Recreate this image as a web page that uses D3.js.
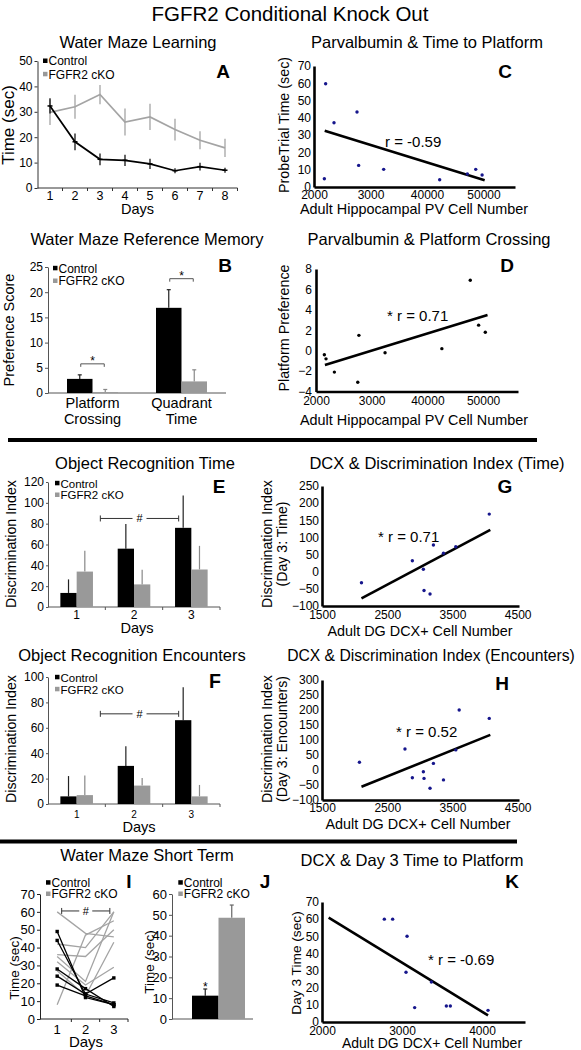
<!DOCTYPE html>
<html><head><meta charset="utf-8">
<script src="https://cdn.jsdelivr.net/npm/d3@7"></script>
<style>body{margin:0;background:#fff;}</style>
</head><body>
<svg id="c" width="581" height="1050"></svg>
<script>
// ================= DATA =================
const mainTitle = "FGFR2 Conditional Knock Out";
const groups = ["Control", "FGFR2 cKO"];

// A: Water Maze Learning
const daysA = [1, 2, 3, 4, 5, 6, 7, 8];
const ctrlA = [32.3, 18.2, 11.3, 10.9, 9.5, 6.8, 8.4, 7.0];
const ctrlAErr = [3.0, 3.3, 2.3, 2.2, 2.0, 1.0, 1.5, 1.0];
const ckoA = [29.8, 32.0, 36.8, 26.0, 28.0, 23.0, 18.8, 15.8];
const ckoAErr = [5.0, 4.7, 3.8, 5.3, 5.2, 4.3, 3.5, 3.6];
const yTicksA = [0, 10, 20, 30, 40, 50];

// B: Water Maze Reference Memory
const catsB = ["Platform Crossing", "Quadrant Time"];
const ctrlB = [2.8, 16.9];
const ctrlBErr = [0.8, 3.6];
const ckoB = [0.15, 2.3];
const ckoBErr = [0.55, 2.3];
const yTicksB = [0, 5, 10, 15, 20, 25];

// C: Parvalbumin & Time to Platform
const pvC = [2206, 2354, 2761, 2790, 3233, 2183, 4224, 4714, 4862, 4975];
const timeC = [59.7, 37.2, 43.4, 12.5, 10.2, 4.8, 4.2, 7.5, 10.2, 6.9];
const fitC = [[2189, 32.6], [5020, 3.9]];
const pvTicks = [2000, 3000, 4000, 5000];
const pvTickLabels = ["2000", "3000", "40000", "50000"];
const yTicksC = [0, 10, 20, 30, 40, 50, 60, 70];

// D: Parvalbumin & Platform Crossing
const pvD = [2150, 2180, 2330, 2750, 2770, 3240, 4260, 4770, 4920, 5040];
const prefD = [-0.4, -0.8, -2.1, -3.1, 1.5, -0.2, 0.2, 6.9, 2.5, 1.8];
const fitD = [[2160, -1.4], [5080, 3.5]];
const yTicksD = [-4, -2, 0, 2, 4, 6, 8];

// E: Object Recognition Time
const daysE = [1, 2, 3];
const ctrlE = [13.5, 56, 76];
const ctrlEErr = [13, 23.7, 31];
const ckoE = [34, 21.7, 36];
const ckoEErr = [20, 14, 22.7];
const yTicksE = [0, 20, 40, 60, 80, 100, 120];

// F: Object Recognition Encounters
const ctrlF = [6, 30, 66];
const ctrlFErr = [16, 15.5, 26];
const ckoF = [7, 14.5, 6];
const ckoFErr = [15.5, 6, 9];
const yTicksF = [0, 20, 40, 60, 80, 100];

// G: DCX & Discrimination Index (Time)
const dcxG = [2105, 2885, 3054, 3064, 3156, 3208, 3362, 3551, 4064];
const diG = [-32, 32, 7, -55, -65, 78, 54, 73, 168];
const fitG = [[2105, -78], [4080, 122]];
const dcxTicks = [1500, 2500, 3500, 4500];
const yTicksG = [-100, -50, 0, 50, 100, 150, 200, 250];

// H: DCX & Discrimination Index (Encounters)
const dcxH = [2074, 2772, 2885, 3054, 3064, 3156, 3208, 3362, 3551, 3603, 4064];
const diH = [26, 70, -26, -6, -28, -61, 22, -33, 67, 200, 172];
const fitH = [[2105, -56], [4080, 117]];
const yTicksH = [-100, -50, 0, 50, 100, 150, 200, 250, 300];

// I: Water Maze Short Term (individual animals)
const daysI = [1, 2, 3];
const ctrlI = [[49, 12, 8], [44, 14, 9], [28, 17, 7], [24, 14, 23], [19, 13, 8]];
const ckoI = [[60, 48, 46], [42, 40, 60], [36, 35, 50], [35, 21, 60], [32, 19, 29], [27, 13, 43], [8, 47, 55]];
const yTicksI = [0, 10, 20, 30, 40, 50, 60, 70];

// J: Water Maze Short Term (means)
const meanJ = [11.2, 48.6];
const errJ = [3.2, 6.1];
const yTicksJ = [0, 10, 20, 30, 40, 50, 60];

// K: DCX & Day 3 Time to Platform
const dcxK = [2779, 2883, 3063, 3050, 3158, 3367, 3554, 3604, 4075];
const timeK = [60, 60, 50, 29, 8.4, 23.3, 9.3, 9.3, 6.8];
const fitK = [[2083, 60.9], [4075, 3.9]];
const dcxTicksK = [2000, 3000, 4000];
const yTicksK = [0, 10, 20, 30, 40, 50, 60, 70];

// ================= DRAWING =================
const FONT = '"Liberation Sans", Arial, Helvetica, sans-serif';
const color = {"Control": "#000", "FGFR2 cKO": "#999"};
const LINEGRAY = "#a4a4a4";
const DOT = "#16168c";
const svg = d3.select("#c").attr("font-family", FONT);
svg.append("rect").attr("width", 581).attr("height", 1050).attr("fill", "#fff");

function txt(x, y, s, size, anchor = "middle", weight = "normal") {
  return svg.append("text").attr("x", x).attr("y", y).attr("font-size", size)
    .attr("text-anchor", anchor).attr("font-weight", weight).attr("fill", "#000").text(s);
}
function vtxt(x, y, s, size) {
  return svg.append("text").attr("transform", `translate(${x},${y}) rotate(-90)`)
    .attr("font-size", size).attr("text-anchor", "middle").attr("fill", "#000").text(s);
}
function line(x1, y1, x2, y2, stroke, sw = 1) {
  return svg.append("line").attr("x1", x1).attr("y1", y1).attr("x2", x2).attr("y2", y2)
    .attr("stroke", stroke).attr("stroke-width", sw);
}
function legend(x, ys, size = 12) {
  groups.forEach((g, i) => {
    svg.append("rect").attr("x", x).attr("y", ys[i] - 2.5).attr("width", 4.5).attr("height", 4.5).attr("fill", color[g]);
    txt(x + 5.5, ys[i] + 4.3, g, size, "start");
  });
}
function yAxis(scale, x, ticks, o = {}) {
  const g = svg.append("g").attr("transform", `translate(${x},0)`)
    .call(d3.axisLeft(scale).tickValues(ticks).tickSize(o.tick ?? 3).tickSizeOuter(0).tickPadding(o.pad ?? 2));
  g.attr("font-family", FONT).attr("font-size", o.size ?? 12);
  g.select(".domain").attr("stroke", o.color ?? "#333").attr("stroke-width", o.sw ?? 1);
  g.selectAll(".tick line").attr("stroke", o.color ?? "#333");
  g.selectAll(".tick text").attr("fill", "#000");
  return g;
}
function bandXAxis(scale, y, o = {}) {
  const [r0, r1] = scale.range();
  line(r0, y, o.end ?? r1, y, o.color ?? "#333", 1);
  if (o.ticks !== false) {
    scale.domain().slice(1).map(d => scale(d)).concat([r1]).forEach(xx => line(xx, y, xx, y + 3, o.color ?? "#333", 1));
  }
  if (o.labels) scale.domain().forEach(d => txt(scale(d) + scale.bandwidth() / 2, y + o.dy, d, o.size));
}
function sigBracket(x1, x2, y, sym, gap) {
  const m = (x1 + x2) / 2;
  if (gap) {
    line(x1, y, m - gap, y, "#333", 1); line(m + gap, y, x2, y, "#333", 1);
    line(x1, y - 3, x1, y + 3, "#333", 1); line(x2, y - 3, x2, y + 3, "#333", 1);
    txt(m, y + 4, sym, 11);
  } else {
    line(x1, y, x2, y, "#555", 1); line(x1, y, x1, y + 3, "#555", 1); line(x2, y, x2, y + 3, "#555", 1);
    txt(m, y + 1.5, sym, 12);
  }
}
function groupedBars(x, sub, y, ctrl, ctrlErr, cko, ckoErr, cap) {
  const off = (x.bandwidth() - sub.range()[1]) / 2;
  const sets = [[groups[0], ctrl, ctrlErr], [groups[1], cko, ckoErr]];
  sets.forEach(([g, vals, errs]) => {
    vals.forEach((v, i) => {
      const c = x.domain()[i];
      const bx = x(c) + off + sub(g);
      const mx = bx + sub.bandwidth() / 2;
      line(mx, y(v), mx, y(v + errs[i]), g === "Control" ? "#222" : "#888", 1.2);
      if (cap) line(mx - 2, y(v + errs[i]), mx + 2, y(v + errs[i]), g === "Control" ? "#222" : "#888", 1.2);
      svg.append("rect").attr("x", bx).attr("y", y(v)).attr("width", sub.bandwidth())
        .attr("height", y(y.domain()[0]) - y(v)).attr("fill", color[g]);
    });
  });
}
function scatter(o) {
  const x = d3.scaleLinear().domain(o.xd).range(o.xr);
  const y = d3.scaleLinear().domain(o.yd).range(o.yr);
  const gy = svg.append("g").attr("transform", `translate(${o.xr[0]},0)`)
    .call(d3.axisLeft(y).tickValues(o.yt).tickSize(0).tickSizeOuter(0).tickPadding(o.ypad ?? 3));
  const gx = svg.append("g").attr("transform", `translate(0,${o.yr[0]})`)
    .call(d3.axisBottom(x).tickValues(o.xt).tickFormat((d, i) => o.xl ? o.xl[i] : d)
      .tickSize(0).tickSizeOuter(0).tickPadding(o.xpad ?? 3));
  [gx, gy].forEach(g => {
    g.attr("font-family", FONT).attr("font-size", 12);
    g.select(".domain").attr("stroke", "#000").attr("stroke-width", 2.6);
    g.selectAll(".tick text").attr("fill", "#000");
  });
  line(x(o.fit[0][0]), y(o.fit[0][1]), x(o.fit[1][0]), y(o.fit[1][1]), "#000", 2.6);
  svg.append("g").selectAll("circle").data(o.xs).join("circle")
    .attr("cx", d => x(d)).attr("cy", (d, i) => y(o.ys[i])).attr("r", 1.7).attr("fill", o.dot ?? DOT);
}

// ---------- Main title & separators ----------
txt(290, 21, mainTitle, 20.5);
svg.append("rect").attr("x", 8).attr("y", 438).attr("width", 529).attr("height", 4).attr("fill", "#000");
svg.append("rect").attr("x", 0).attr("y", 839.5).attr("width", 517).attr("height", 4).attr("fill", "#000");

// ---------- Panel A ----------
(function () {
  const x = d3.scaleBand().domain(daysA).range([37.5, 237.5]);
  const y = d3.scaleLinear().domain([0, 50]).range([188, 61]);
  const cx = d => x(d) + x.bandwidth() / 2;
  yAxis(y, 37.5, yTicksA, {size: 12});
  bandXAxis(x, 188, {labels: true, dy: 12, size: 12.5});
  const ln = d3.line().x((d, i) => cx(daysA[i])).y(d => y(d));
  svg.append("path").datum(ckoA).attr("d", ln).attr("fill", "none").attr("stroke", LINEGRAY).attr("stroke-width", 1.7);
  ckoA.forEach((v, i) => line(cx(daysA[i]), y(v - ckoAErr[i]), cx(daysA[i]), y(v + ckoAErr[i]), LINEGRAY, 1.3));
  svg.append("path").datum(ctrlA).attr("d", ln).attr("fill", "none").attr("stroke", "#000").attr("stroke-width", 1.7);
  ctrlA.forEach((v, i) => {
    const xx = cx(daysA[i]);
    line(xx, y(v - ctrlAErr[i]), xx, y(v + ctrlAErr[i]), "#000", 1.2);
    line(xx - 2.5, y(v), xx + 2.5, y(v), "#000", 1.5);
  });
  txt(138, 48, "Water Maze Learning", 16.5);
  vtxt(14, 125, "Time (sec)", 17);
  txt(137.5, 213.5, "Days", 14.5);
  legend(43, [61, 74.3]);
  txt(223, 78, "A", 19, "middle", "bold");
})();

// ---------- Panel B ----------
(function () {
  const x = d3.scaleBand().domain(catsB).range([48, 226]);
  const sub = d3.scaleBand().domain(groups).range([0, 51]);
  const y = d3.scaleLinear().domain([0, 25]).range([393, 267]);
  yAxis(y, 48, yTicksB, {size: 12, color: "#555"});
  bandXAxis(x, 393, {ticks: false, color: "#555"});
  groupedBars(x, sub, y, ctrlB, ctrlBErr, ckoB, ckoBErr, true);
  const off = (x.bandwidth() - 51) / 2;
  catsB.forEach((c, i) => {
    const xc = x(c) + off + sub(groups[0]) + sub.bandwidth() / 2;
    const xk = x(c) + off + sub(groups[1]) + sub.bandwidth() / 2;
    const top = Math.min(y(ctrlB[i] + ctrlBErr[i]), y(ckoB[i] + ckoBErr[i]));
    sigBracket(xc + 1, xk - 1, top - 11, "*");
    const parts = c.split(" ");
    txt(x(c) + x.bandwidth() / 2, 408, parts[0], 14.5);
    txt(x(c) + x.bandwidth() / 2, 424, parts[1], 14.5);
  });
  txt(147, 245, "Water Maze Reference Memory", 16.5);
  vtxt(14, 330, "Preference Score", 14.5);
  legend(53, [268.3, 281]);
  txt(225, 272, "B", 19, "middle", "bold");
})();

// ---------- Panel C ----------
scatter({xd: [2000, 5557], xr: [314, 515], yd: [0, 70], yr: [187, 66],
  xt: pvTicks, xl: pvTickLabels, yt: yTicksC, xs: pvC, ys: timeC, fit: fitC, xpad: 3.5, ypad: 3});
txt(427, 48, "Parvalbumin & Time to Platform", 16.5);
vtxt(289, 125, "ProbeTrial Time (sec)", 14.3);
txt(414, 214, "Adult Hippocampal PV Cell Number", 14.4);
txt(385, 147, "r = -0.59", 15, "start");
txt(505, 78, "C", 19, "middle", "bold");

// ---------- Panel D ----------
scatter({xd: [2000, 5627], xr: [316, 518], yd: [-4, 8], yr: [391.5, 269],
  xt: pvTicks, xl: pvTickLabels, yt: yTicksD, xs: pvD, ys: prefD, fit: fitD, xpad: 5, ypad: 4, dot: "#000"});
txt(429, 245, "Parvalbumin & Platform Crossing", 16.5);
vtxt(289, 328, "Platform Preference", 14.3);
txt(414, 425, "Adult Hippocampal PV Cell Number", 14.4);
txt(387, 321, "* r = 0.71", 15, "start");
txt(507, 272, "D", 19, "middle", "bold");

// ---------- Panel E ----------
(function () {
  const x = d3.scaleBand().domain(daysE).range([48, 220]);
  const sub = d3.scaleBand().domain(groups).range([0, 32.6]);
  const y = d3.scaleLinear().domain([0, 120]).range([607, 482]);
  yAxis(y, 48, yTicksE, {size: 12, color: "#555", tick: 2});
  bandXAxis(x, 607, {labels: true, dy: 12, size: 12, color: "#555"});
  groupedBars(x, sub, y, ctrlE, ctrlEErr, ckoE, ckoEErr, false);
  sigBracket(x(2) - 5, x(3) + 16, y(85), "#", 7);
  txt(145, 469, "Object Recognition Time", 16.5);
  vtxt(16, 544, "Discrimination Index", 14.2);
  txt(137, 632.5, "Days", 14.6);
  legend(55, [483.3, 495], 11.5);
  txt(219, 493, "E", 19, "middle", "bold");
})();

// ---------- Panel G ----------
scatter({xd: [1500, 4520], xr: [322, 519], yd: [-100, 250], yr: [606, 486],
  xt: dcxTicks, yt: yTicksG, xs: dcxG, ys: diG, fit: fitG, xpad: 4.5, ypad: 3});
txt(437, 469, "DCX & Discrimination Index (Time)", 16.5);
vtxt(272, 544, "Discrimination Index", 14.2);
vtxt(287, 544, "(Day 3: Time)", 14.2);
txt(420, 636, "Adult DG DCX+ Cell Number", 14.4);
txt(378, 542, "* r = 0.71", 15, "start");
txt(505, 493, "G", 19, "middle", "bold");

// ---------- Panel F ----------
(function () {
  const x = d3.scaleBand().domain(daysE).range([48, 220]);
  const sub = d3.scaleBand().domain(groups).range([0, 32.6]);
  const y = d3.scaleLinear().domain([0, 100]).range([804, 677]);
  yAxis(y, 48, yTicksF, {size: 12, color: "#555", tick: 2});
  bandXAxis(x, 804, {labels: true, dy: 13.5, size: 10, color: "#555"});
  groupedBars(x, sub, y, ctrlF, ctrlFErr, ckoF, ckoFErr, false);
  sigBracket(x(2) - 5, x(3) + 16, y(71), "#", 7);
  txt(132, 661, "Object Recognition Encounters", 16.5);
  vtxt(16, 739, "Discrimination Index", 14.2);
  txt(139, 832, "Days", 14.6);
  legend(55, [677.3, 689.3], 11.5);
  txt(215, 688, "F", 19.5, "middle", "bold");
})();

// ---------- Panel H ----------
scatter({xd: [1500, 4520], xr: [322, 519], yd: [-100, 300], yr: [800, 680],
  xt: dcxTicks, yt: yTicksH, xs: dcxH, ys: diH, fit: fitH, xpad: 3.5, ypad: 3});
txt(431, 661, "DCX & Discrimination Index (Encounters)", 15.7);
vtxt(272, 739, "Discrimination Index", 14.2);
vtxt(287, 739, "(Day 3: Encounters)", 14.2);
txt(418, 829, "Adult DG DCX+ Cell Number", 14.4);
txt(396, 737, "* r = 0.52", 15, "start");
txt(502, 690, "H", 19, "middle", "bold");

// ---------- Panel I ----------
(function () {
  const x = d3.scaleBand().domain(daysI).range([43, 128]);
  const y = d3.scaleLinear().domain([0, 70]).range([1019, 894]);
  const cx = d => x(d) + x.bandwidth() / 2;
  yAxis(y, 40, yTicksI, {size: 13, color: "#222"});
  line(40, 1019, 43, 1019, "#222", 1);
  bandXAxis(x, 1019, {labels: true, dy: 14.5, size: 13, color: "#222"});
  const ln = d3.line().x((d, i) => cx(daysI[i])).y(d => y(d));
  ckoI.forEach(s => svg.append("path").datum(s).attr("d", ln).attr("fill", "none").attr("stroke", LINEGRAY).attr("stroke-width", 1.3));
  ctrlI.forEach(s => {
    svg.append("path").datum(s).attr("d", ln).attr("fill", "none").attr("stroke", "#000").attr("stroke-width", 1.3);
    s.forEach((v, i) => svg.append("rect").attr("x", cx(daysI[i]) - 1.7).attr("y", y(v) - 1.7).attr("width", 3.4).attr("height", 3.4).attr("fill", "#000"));
  });
  sigBracket(cx(1) + 4.5, cx(3) - 4, y(60.5), "#", 6.5);
  vtxt(19, 968, "Time (sec)", 13.5);
  txt(86, 1046.5, "Days", 15);
  legend(46, [882.7, 894]);
  txt(129, 888, "I", 19, "middle", "bold");
})();

// ---------- Panel J ----------
(function () {
  const x = d3.scaleBand().domain(groups).range([192, 245]);
  const y = d3.scaleLinear().domain([0, 60]).range([1019, 894]);
  yAxis(y, 172, yTicksJ, {size: 13, color: "#555"});
  line(172, 1019, 253, 1019, "#555", 1);
  groups.forEach((g, i) => {
    const mx = x(g) + x.bandwidth() / 2;
    line(mx, y(meanJ[i]), mx, y(meanJ[i] + errJ[i]), g === "Control" ? "#222" : "#666", 1.2);
    line(mx - 2, y(meanJ[i] + errJ[i]), mx + 2, y(meanJ[i] + errJ[i]), g === "Control" ? "#222" : "#666", 1.2);
    svg.append("rect").attr("x", x(g)).attr("y", y(meanJ[i])).attr("width", x.bandwidth())
      .attr("height", y(0) - y(meanJ[i])).attr("fill", color[g]);
  });
  txt(x(groups[0]) + x.bandwidth() / 2, y(meanJ[0] + errJ[0]) + 1.5, "*", 12);
  txt(147, 861, "Water Maze Short Term", 16.5);
  vtxt(154, 962, "Time (sec)", 13.5);
  legend(178.3, [882.7, 894]);
  txt(265, 888, "J", 19, "middle", "bold");
})();

// ---------- Panel K ----------
scatter({xd: [2000, 4537], xr: [322, 525], yd: [0, 70], yr: [1022, 902],
  xt: dcxTicksK, yt: yTicksK, xs: dcxK, ys: timeK, fit: fitK, xpad: 4, ypad: 3});
txt(412, 866, "DCX & Day 3 Time to Platform", 16.5);
vtxt(301, 963, "Day 3 Time (sec)", 13.7);
txt(432, 1048, "Adult DG DCX+ Cell Number", 14);
txt(428, 965, "* r = -0.69", 15, "start");
txt(512, 888, "K", 19, "middle", "bold");
</script>
</body></html>
